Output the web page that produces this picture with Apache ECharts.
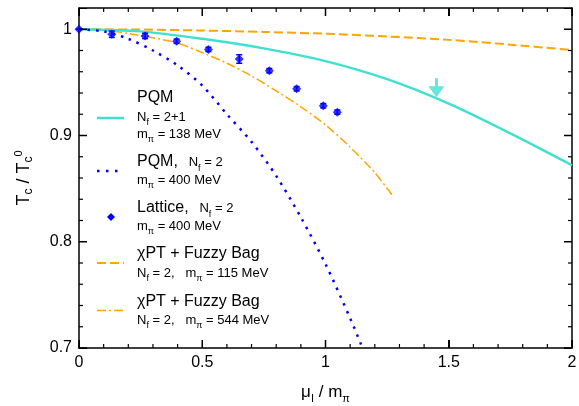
<!DOCTYPE html>
<html><head><meta charset="utf-8">
<script src="https://cdn.jsdelivr.net/npm/echarts@6/dist/echarts.min.js"></script>
<style>html,body{margin:0;padding:0;background:#fff}#c{width:579px;height:406px}</style>
</head><body><div id="c"></div>
<script>
// ---- data ----
const pqm21X = [0, 0.25, 0.5, 0.75, 1.0, 1.25, 1.5, 1.75, 2.0];
const pqm21Y = [1.0, 0.998, 0.991, 0.982, 0.970, 0.953, 0.930, 0.902, 0.872];

const pqm2X = [0, 0.1, 0.2, 0.3, 0.4, 0.5, 0.6, 0.7, 0.8, 0.9, 1.0, 1.1, 1.15];
const pqm2Y = [1.0, 0.998, 0.991, 0.980, 0.966, 0.947, 0.920, 0.894, 0.862, 0.823, 0.779, 0.728, 0.700];

const chpt115X = [0, 0.25, 0.5, 0.75, 1.0, 1.25, 1.5, 1.75, 2.0];
const chpt115Y = [1.0, 0.9997, 0.9988, 0.9975, 0.9958, 0.9932, 0.990, 0.9855, 0.9805];

const chpt544X = [0, 0.1, 0.2, 0.3, 0.4, 0.5, 0.6, 0.7, 0.8, 0.9, 1.0, 1.1, 1.2, 1.27];
const chpt544Y = [1.0, 0.999, 0.996, 0.992, 0.987, 0.978, 0.968, 0.956, 0.942, 0.927, 0.910, 0.889, 0.865, 0.844];

const latX = [0, 0.133, 0.268, 0.396, 0.525, 0.650, 0.772, 0.883, 0.991, 1.048];
const latY = [1.0, 0.9953, 0.9937, 0.9887, 0.981, 0.972, 0.961, 0.944, 0.928, 0.922];
const latErr = [0, 0.003, 0.0025, 0.002, 0.002, 0.004, 0.002, 0.002, 0.002, 0.002];

const arrowX = 1.45, arrowY = 0.945;

// tick values
const xMajorTicks = [0, 0.5, 1, 1.5, 2];
const xMinorTicks = [0.1, 0.2, 0.3, 0.4, 0.6, 0.7, 0.8, 0.9, 1.1, 1.2, 1.3, 1.4, 1.6, 1.7, 1.8, 1.9];
const yMajorTicks = [0.7, 0.8, 0.9, 1];
const yMinorTicks = [0.72, 0.74, 0.76, 0.78, 0.82, 0.84, 0.86, 0.88, 0.92, 0.94, 0.96, 0.98];

// ---- chart ----
const zip = (xs, ys) => xs.map((x, i) => [x, ys[i]]);
const FONT = "'Liberation Sans', Arial, sans-serif";
const TURQ = '#40E0D0', BLUE = '#0000FF', ORANGE = '#FFA500';
const X_MIN = 0, X_MAX = 2, Y_MIN = 0.7, Y_MAX = 1.02;

const chart = echarts.init(document.getElementById('c'), null, {renderer: 'canvas'});

const lineOn = {show: true, onZero: false, lineStyle: {color: '#000', width: 1.5}};
const tickIn = {show: true, inside: true, length: 8};
const lblFmt = v => (yMajorTicks.some(t => Math.abs(t - v) < 1e-9) ? String(+v.toFixed(1)) : '');

const yAxes = [
  {type: 'value', position: 'left', min: Y_MIN, max: Y_MAX, interval: 0.1,
    axisLine: lineOn, splitLine: {show: false}, axisTick: tickIn,
    axisLabel: {formatter: lblFmt, fontSize: 16, color: '#000', fontFamily: FONT, margin: 7},
    name: '{m|T}{s|c}{m| / T}{s|c}{p|0}', nameLocation: 'middle', nameRotate: 90, nameGap: 44,
    nameTextStyle: {fontFamily: FONT, rich: {
      m: {fontSize: 18, fontFamily: FONT, color: '#000', lineHeight: 22},
      s: {fontSize: 12, fontFamily: FONT, color: '#000', lineHeight: 12, verticalAlign: 'bottom', padding: [8, 0, 0, 0]},
      p: {fontSize: 11, fontFamily: FONT, color: '#000', lineHeight: 12, verticalAlign: 'top', padding: [0, 0, 10, 0]}
    }}},
  {type: 'value', position: 'right', min: Y_MIN, max: Y_MAX, interval: 0.1,
    axisLine: lineOn, splitLine: {show: false}, axisTick: tickIn, axisLabel: {show: false}}
];
const xAxes = [
  {type: 'value', position: 'bottom', min: X_MIN, max: X_MAX, interval: 0.5,
    axisLine: lineOn, splitLine: {show: false}, axisTick: tickIn,
    axisLabel: {fontSize: 16, color: '#000', fontFamily: FONT, margin: 7},
    name: '{m|μ}{s|I}{m| / m}{s|π}', nameLocation: 'middle', nameGap: 31,
    nameTextStyle: {fontFamily: FONT, rich: {
      m: {fontSize: 17, fontFamily: FONT, color: '#000', lineHeight: 22, verticalAlign: 'bottom'},
      s: {fontSize: 11, fontFamily: FONT, color: '#000', lineHeight: 14, verticalAlign: 'bottom', padding: [0, 0, -3, 0]}
    }}},
  {type: 'value', position: 'top', min: X_MIN, max: X_MAX, interval: 0.5,
    axisLine: lineOn, splitLine: {show: false}, axisTick: tickIn, axisLabel: {show: false}}
];

// inward tick marks on all four sides; every item lies inside the axis ranges and is placed with api.coord
const Y_MID = 0.85, X_MID = 1;
const tickData = [].concat(
  xMajorTicks.map(v => [v, Y_MID, 0]), xMinorTicks.map(v => [v, Y_MID, 1]),
  yMajorTicks.map(v => [X_MID, v, 2]), yMinorTicks.map(v => [X_MID, v, 3]));
function renderTick(params, api) {
  const kind = api.value(2);
  const lb = api.coord([X_MIN, Y_MIN]), rt = api.coord([X_MAX, Y_MAX]);
  const L = lb[0], B = lb[1], R = rt[0], T = rt[1];
  const major = (kind === 0 || kind === 2);
  const len = major ? 8 : 4;
  const st = {stroke: '#000', lineWidth: major ? 1.5 : 1.2};
  if (kind < 2) {
    const x = api.coord([api.value(0), Y_MIN])[0];
    return {type: 'group', children: [
      {type: 'line', shape: {x1: x, y1: B, x2: x, y2: B - len}, style: st},
      {type: 'line', shape: {x1: x, y1: T, x2: x, y2: T + len}, style: st}]};
  }
  const y = api.coord([X_MIN, api.value(1)])[1];
  return {type: 'group', children: [
    {type: 'line', shape: {x1: L, y1: y, x2: L + len, y2: y}, style: st},
    {type: 'line', shape: {x1: R, y1: y, x2: R - len, y2: y}, style: st}]};
}

const sub = {fontSize: 9, fontFamily: FONT, color: '#000', lineHeight: 16, verticalAlign: 'bottom', padding: [0, 0, -2, 0]};
const nrm = {fontSize: 13, fontFamily: FONT, color: '#000', lineHeight: 16};
const big = {fontSize: 16, fontFamily: FONT, color: '#000', lineHeight: 18};
const rich = {b: big, n: nrm, s: sub};
const LX = 137;
function txt(text, y) {
  return {type: 'text', x: LX, y: y, z: 100, style: {text: text, rich: rich, verticalAlign: 'middle', align: 'left'}};
}
function ln(y, dash, color, w) {
  return {type: 'line', z: 100, shape: {x1: 97, y1: y, x2: 124, y2: y},
    style: {stroke: color, lineWidth: w, lineDash: dash}};
}

const legendGraphic = [
  txt('{b|PQM}', 98),
  ln(118, null, TURQ, 2.5),
  txt('{n|N}{s|f}{n| = 2+1}', 117),
  txt('{n|m}{s|π}{n| = 138 MeV}', 134),
  txt('{b|PQM,}{n|   N}{s|f}{n| = 2}', 162),
  ln(171, [2.5, 6.5], BLUE, 2.5),
  txt('{n|m}{s|π}{n| = 400 MeV}', 180),
  txt('{b|Lattice,}{n|   N}{s|f}{n| = 2}', 208),
  {type: 'polygon', z: 100, shape: {points: [[111, 213], [115, 217], [111, 221], [107, 217]]}, style: {fill: BLUE}},
  txt('{n|m}{s|π}{n| = 400 MeV}', 226),
  txt('{b|χPT + Fuzzy Bag}', 254),
  ln(263, [9, 4], ORANGE, 2),
  txt('{n|N}{s|f}{n| = 2,   m}{s|π}{n| = 115 MeV}', 273),
  txt('{b|χPT + Fuzzy Bag}', 302),
  ln(310.5, [9, 3, 2, 3], ORANGE, 1.5),
  txt('{n|N}{s|f}{n| = 2,   m}{s|π}{n| = 544 MeV}', 320),
];

const option = {
  animation: false,
  backgroundColor: '#fff',
  grid: {left: 79, right: 7, top: 8, bottom: 58, containLabel: false, outerBoundsMode: 'none'},
  xAxis: xAxes,
  yAxis: yAxes,
  graphic: legendGraphic,
  series: [
    {type: 'custom', name: 'ticks', data: tickData, renderItem: renderTick, clip: false, silent: true, z: 10},
    {type: 'line', name: 'PQM 2+1', data: zip(pqm21X, pqm21Y), smooth: 0.3, showSymbol: false,
      lineStyle: {color: TURQ, width: 2.5}, z: 3},
    {type: 'line', name: 'PQM 2', data: zip(pqm2X, pqm2Y), smooth: 0.3, showSymbol: false,
      lineStyle: {color: BLUE, width: 2.5, type: [2.5, 6]}, z: 3},
    {type: 'line', name: 'chPT 115', data: zip(chpt115X, chpt115Y), smooth: 0.3, showSymbol: false,
      lineStyle: {color: ORANGE, width: 2, type: [9, 4]}, z: 2},
    {type: 'line', name: 'chPT 544', data: zip(chpt544X, chpt544Y), smooth: 0.3, showSymbol: false,
      lineStyle: {color: ORANGE, width: 1.5, type: [9, 3, 2, 3]}, z: 2},
    {type: 'custom', name: 'errors', z: 4,
      data: latX.map((x, i) => [x, latY[i] - latErr[i], latY[i] + latErr[i]]),
      renderItem: (params, api) => {
        const lo = api.coord([api.value(0), api.value(1)]);
        const hi = api.coord([api.value(0), api.value(2)]);
        const st = {stroke: BLUE, lineWidth: 1.5};
        return {type: 'group', children: [
          {type: 'line', shape: {x1: lo[0], y1: lo[1], x2: hi[0], y2: hi[1]}, style: st},
          {type: 'line', shape: {x1: lo[0] - 3, y1: lo[1], x2: lo[0] + 3, y2: lo[1]}, style: st},
          {type: 'line', shape: {x1: hi[0] - 3, y1: hi[1], x2: hi[0] + 3, y2: hi[1]}, style: st},
        ]};
      }},
    {type: 'scatter', name: 'Lattice', data: zip(latX, latY), symbol: 'diamond', symbolSize: 9,
      itemStyle: {color: BLUE}, z: 5},
    {type: 'scatter', name: 'arrow', data: [[arrowX, arrowY]],
      symbol: 'path://M-1.5,0 L1.5,0 L1.5,8 L8,8 L0,19 L-8,8 L-1.5,8 Z', symbolSize: [16, 19],
      itemStyle: {color: TURQ}, z: 5},
  ]
};
chart.setOption(option);
</script>
</body></html>
